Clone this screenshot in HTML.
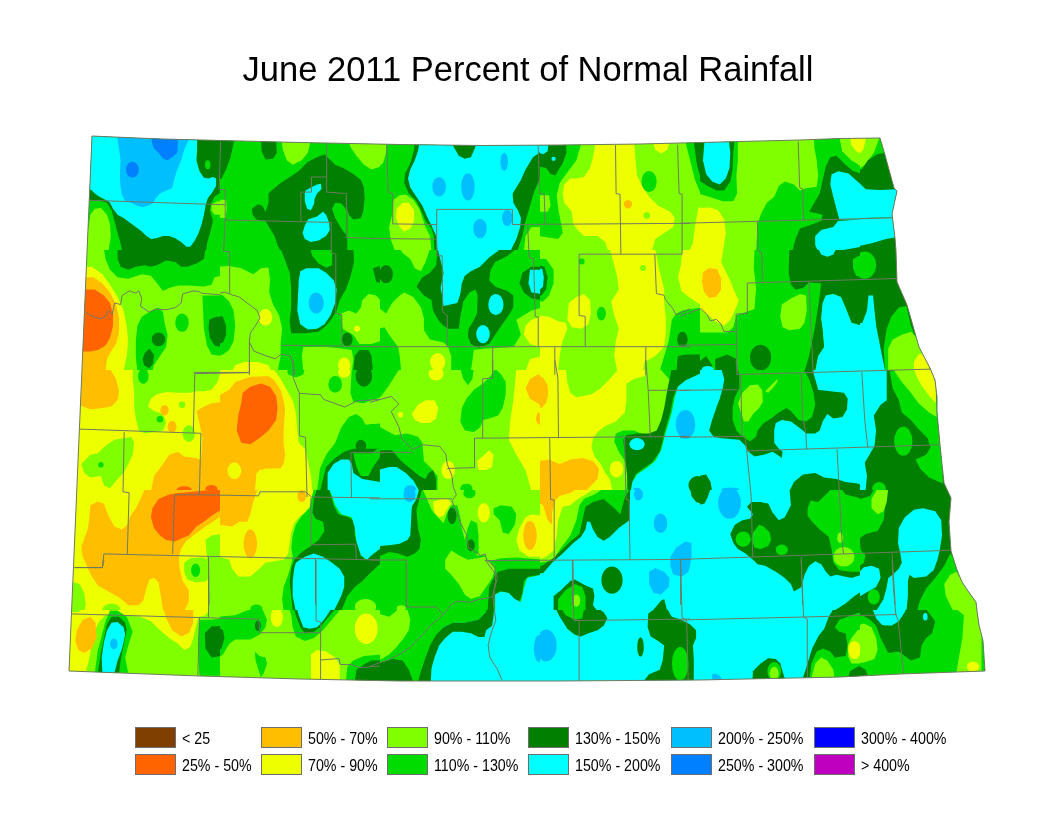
<!DOCTYPE html>
<html><head><meta charset="utf-8"><title>June 2011 Percent of Normal Rainfall</title>
<style>
html,body{margin:0;padding:0;background:#fff;}
body{width:1056px;height:816px;position:relative;overflow:hidden;font-family:"Liberation Sans",Arial,sans-serif;}
h1{position:absolute;left:0;top:52px;width:1056px;margin:0;text-align:center;font-weight:normal;font-size:34.5px;line-height:1;color:#000;letter-spacing:0px;padding-left:0px;box-sizing:border-box;}
.sw{position:absolute;width:39px;height:19px;border:1px solid #6e6e6e;box-sizing:content-box;}
.lt{position:absolute;font-size:16px;line-height:16px;transform:scaleX(0.89);transform-origin:0 0;color:#000;white-space:nowrap;}
</style></head><body>
<svg width="1056" height="816" viewBox="0 0 1056 816" style="position:absolute;left:0;top:0"><defs><clipPath id="nd"><polygon points="92,136 114,137 137,138 162,139 221,140.5 300,142.5 400,144.5 480,145.5 560,145 640,144 720,142 800,140 840,138.5 880,138 885,155 894,188 897,191 892,214 895,238 896,251 897,282 907,305 913,326 919,347 930,368 935,380 937,397 937,412 940,445 944,483 951,498 949,522 951,551 957,570 962,582 968,591 976,602 977,611 979,625 983,641 984,656 985,671 900,674 840,677 700,680 560,681 480,681 400,681 300,679 200,676 69,671"/></clipPath><clipPath id="t0"><rect x="60" y="130" width="160" height="120"/></clipPath><clipPath id="t1"><rect x="60" y="250" width="160" height="120"/></clipPath><clipPath id="t2"><rect x="60" y="370" width="160" height="120"/></clipPath><clipPath id="t3"><rect x="60" y="490" width="160" height="120"/></clipPath><clipPath id="t4"><rect x="60" y="610" width="160" height="120"/></clipPath><clipPath id="t5"><rect x="220" y="130" width="160" height="120"/></clipPath><clipPath id="t6"><rect x="220" y="250" width="160" height="120"/></clipPath><clipPath id="t7"><rect x="220" y="370" width="160" height="120"/></clipPath><clipPath id="t8"><rect x="220" y="490" width="160" height="120"/></clipPath><clipPath id="t9"><rect x="220" y="610" width="160" height="120"/></clipPath><clipPath id="t10"><rect x="380" y="130" width="160" height="120"/></clipPath><clipPath id="t11"><rect x="380" y="250" width="160" height="120"/></clipPath><clipPath id="t12"><rect x="380" y="370" width="160" height="120"/></clipPath><clipPath id="t13"><rect x="380" y="490" width="160" height="120"/></clipPath><clipPath id="t14"><rect x="380" y="610" width="160" height="120"/></clipPath><clipPath id="t15"><rect x="540" y="130" width="160" height="120"/></clipPath><clipPath id="t16"><rect x="540" y="250" width="160" height="120"/></clipPath><clipPath id="t17"><rect x="540" y="370" width="160" height="120"/></clipPath><clipPath id="t18"><rect x="540" y="490" width="160" height="120"/></clipPath><clipPath id="t19"><rect x="540" y="610" width="160" height="120"/></clipPath><clipPath id="t20"><rect x="700" y="130" width="160" height="120"/></clipPath><clipPath id="t21"><rect x="700" y="250" width="160" height="120"/></clipPath><clipPath id="t22"><rect x="700" y="370" width="160" height="120"/></clipPath><clipPath id="t23"><rect x="700" y="490" width="160" height="120"/></clipPath><clipPath id="t24"><rect x="700" y="610" width="160" height="120"/></clipPath><clipPath id="t25"><rect x="860" y="130" width="160" height="120"/></clipPath><clipPath id="t26"><rect x="860" y="250" width="160" height="120"/></clipPath><clipPath id="t27"><rect x="860" y="370" width="160" height="120"/></clipPath><clipPath id="t28"><rect x="860" y="490" width="160" height="120"/></clipPath><clipPath id="t29"><rect x="860" y="610" width="160" height="120"/></clipPath></defs><g clip-path="url(#nd)"><polygon fill="#80ff00" points="92,136 114,137 137,138 162,139 221,140.5 300,142.5 400,144.5 480,145.5 560,145 640,144 720,142 800,140 840,138.5 880,138 885,155 894,188 897,191 892,214 895,238 896,251 897,282 907,305 913,326 919,347 930,368 935,380 937,397 937,412 940,445 944,483 951,498 949,522 951,551 957,570 962,582 968,591 976,602 977,611 979,625 983,641 984,656 985,671 900,674 840,677 700,680 560,681 480,681 400,681 300,679 200,676 69,671"/><g clip-path="url(#t0)"><rect x="60" y="130" width="160" height="120" fill="#00dc00"/><polygon fill="#80ff00" points="94.8,208.8 100.9,208 107,214.8 110,223.9 110.8,236.1 108.5,251.2 82.7,251.2 88.8,227 90.3,214.8"/><polygon fill="#80ff00" points="211.5,204.2 217.6,201.2 221.5,201.2 221.5,214.8 214.5,214.8 211.5,210.3"/><polygon fill="#007f00" points="82.7,134.5 221.5,134.5 221.5,192.1 214.5,196.7 211.5,202.7 210,210.3 213,220.9 210,233 207,243.6 206.2,251.2 122.1,251.2 120.6,243.6 117.6,233 114.5,220.9 111.5,210.3 107,202.7 99.4,200.5 82.7,200.5"/><ellipse fill="#00dc00" cx="207.7" cy="164.8" rx="2.7" ry="4.5"/><polygon fill="#00ffff" points="82.7,134.5 197.1,134.5 197.1,149.7 196.4,160.3 199.4,170.9 203.9,177.7 208.5,178.5 213,177 216.1,178.5 216.1,186.1 211.5,193.6 207.7,198.2 205.5,205.8 203.9,214.8 201.7,223.9 198.6,233 194.8,240.6 190.3,246.7 186.5,246.7 181.2,242.1 175.2,238.3 169.1,236.1 163,236.1 157,237.9 150.9,239.1 146.4,236.1 141.8,231.5 135.8,227 129.7,222.4 123.6,217.9 117.6,214.8 113,208.8 110,202.7 105.5,199.7 99.4,196.7 94.8,193.6 91.1,189.8 82.7,189.8"/><polygon fill="#00bfff" points="116.8,134.5 188.8,134.5 188.8,139.8 184.2,149.7 181.2,160.3 176.7,170.9 173.6,181.5 172.1,188.3 166.1,190.6 160,193.6 155.5,198.2 153.9,202.7 147.9,205.8 141.8,207.3 135.8,205 131.2,202.7 125.2,201.2 122.1,195.2 120.6,187.6 119.8,175.5 120.6,160.3 119.1,149.7"/><polygon fill="#0080ff" points="151.7,134.5 178.2,134.5 177.4,152.7 172.1,157.3 167.6,160.3 163,158.8 158.5,152.7 153.9,148.2 151.7,142.1"/><ellipse fill="#0080ff" cx="132.4" cy="169.7" rx="6.4" ry="7.9"/></g>
<g clip-path="url(#t1)"><rect x="60" y="250" width="160" height="120" fill="#80ff00"/><polygon fill="#00dc00" points="103.9,248.5 221.5,248.5 221.5,275.8 214.5,277.3 211.5,284.8 203.9,286.4 188.8,285.6 178.2,285.6 169.1,287.9 163,290.9 157,283.3 150.9,275.8 141.8,274.2 128.2,278.8 117.6,277.3 110,269.7 105.5,259.1"/><polygon fill="#007f00" points="117.6,248.5 205.5,248.5 203.9,259.1 196.4,263.6 187.3,266.7 181.2,266.7 175.2,262.1 166.1,260.6 157,265.2 150.9,266.7 144.8,265.2 135.8,266.7 128.2,269.7 120.6,266.7 117.6,259.1"/><polygon fill="#eeff00" points="75.2,266.7 91.8,266.7 102.4,274.2 110,284.8 117.6,297 123.6,310.6 126.7,325.8 128.2,340.9 126.7,356.1 123.6,371.2 75.2,371.2"/><polygon fill="#ffbf00" points="75.2,277.3 93.3,277.3 102.4,283.3 110,292.4 116.1,304.5 119.1,318.2 119.1,331.8 116.1,343.9 110,353 107,359.1 105.5,371.2 75.2,371.2"/><polygon fill="#ff6400" points="75.2,289.4 94.8,289.4 103.9,295.5 110,303 113,313.6 113,325.8 110,337.9 105.5,345.5 97.9,350 90.3,351.5 75.2,351.5"/><polygon fill="#00dc00" points="137.3,325.8 141.8,316.7 149.4,312.1 158.5,307.6 163,312.1 164.5,322.7 167.6,334.8 166.1,347 160,356.1 153.9,365.2 152.4,371.2 137.3,371.2 135.8,356.1 135.8,340.9"/><ellipse fill="#007f00" cx="158.5" cy="339.4" rx="6.8" ry="6.8"/><polygon fill="#007f00" points="144.8,353 149.4,348.5 153.9,354.5 153.2,363.6 149.4,368.2 144.1,365.2 142.6,359.1"/><ellipse fill="#00dc00" cx="182" cy="322.7" rx="6.8" ry="9.1"/><polygon fill="#00dc00" points="202.4,295.5 221.5,295.5 221.5,356.1 211.5,354.5 207,345.5 203.9,328.8 203.2,313.6"/><polygon fill="#007f00" points="209.2,319.7 216.1,316.7 221.5,316.7 221.5,347 214.5,345.5 210,337.9 208.5,328.8"/></g>
<g clip-path="url(#t2)"><rect x="60" y="370" width="160" height="120" fill="#eeff00"/><polygon fill="#ffbf00" points="75.2,368.5 110,368.5 116.1,379.1 119.1,391.2 117.6,400.3 111.5,406.4 102.4,407.9 90.3,409.4 82.7,406.4 75.2,404.8"/><polygon fill="#80ff00" points="132.7,368.5 221.5,368.5 217.6,382.1 211.5,389.7 203.9,391.2 194.8,391.2 190.3,392.7 178.2,392.7 166.1,392 157,394.2 150.9,398.8 147.9,406.4 153.9,410.9 163,413.9 166.1,423 163,430.6 153.9,432.1 144.8,433.6 138.8,430.6 135.8,418.5 134.2,406.4 134.2,392.7 132.7,379.1"/><ellipse fill="#00dc00" cx="143.3" cy="376.1" rx="5.3" ry="7.6"/><ellipse fill="#00dc00" cx="160" cy="419.2" rx="3.3" ry="3.3"/><ellipse fill="#ffbf00" cx="164.5" cy="410.2" rx="4.2" ry="5.3"/><ellipse fill="#ffbf00" cx="172.1" cy="426.8" rx="4.5" ry="6.1"/><ellipse fill="#80ff00" cx="182" cy="404.8" rx="3.3" ry="3.3"/><ellipse fill="#80ff00" cx="188.8" cy="433.6" rx="6.1" ry="8.3"/><polygon fill="#ffbf00" points="196.4,410.9 203.9,406.4 211.5,403.3 221.5,401.8 221.5,491.2 199.4,491.2 200.9,460.9 202.4,438.2 199.4,423"/><polygon fill="#ffbf00" points="150.9,491.2 153.9,476.1 163,463.9 169.1,454.8 178.2,451.8 184.2,456.4 196.4,457.9 202.4,460.9 200.9,491.2"/><ellipse fill="#ff6400" cx="184.2" cy="490" rx="7.6" ry="3.8"/><ellipse fill="#ff6400" cx="211.5" cy="488.9" rx="6.1" ry="3.8"/><polygon fill="#80ff00" points="81.2,463.9 90.3,454.8 97.9,453.3 105.5,445.8 114.5,439.7 123.6,438.2 131.2,436.7 134.2,442.7 132.7,454.8 128.2,463.9 123.6,473 117.6,479.1 110,488.2 103.9,485.2 100.9,476.1 90.3,477.6 84.2,473"/><ellipse fill="#00dc00" cx="100.9" cy="464.7" rx="2.7" ry="2.7"/></g>
<g clip-path="url(#t3)"><rect x="60" y="490" width="160" height="120" fill="#eeff00"/><polygon fill="#ffbf00" points="90.3,505.2 97.9,501.4 103.9,503.6 108.5,515.8 114.5,526.4 122.1,529.4 127.4,524.8 129.7,517.3 135.8,508.2 141.8,496.1 144.8,488.5 221.5,488.5 221.5,515.8 213,521.8 205.5,526.4 199.4,530.9 193.3,535.5 185.8,541.5 181.2,549.1 178.9,556.7 179.7,568.8 182.7,580.9 188.8,590 188.8,602.1 184.2,611.2 163,611.2 160.8,596.1 158.5,582.4 153.9,577.9 149.4,579.4 146.4,588.5 143.3,600.6 138.8,605.2 128.2,605.2 119.1,597.6 108.5,591.5 97.9,585.5 91.8,576.4 87.3,567.3 82.7,556.7 81.2,547.6 84.2,538.5 88,527.9 89.5,515.8"/><polygon fill="#ff6400" points="152.4,508.2 158.5,499.1 169.1,494.5 178.2,493 196.4,491.5 221.5,488.5 221.5,509.7 211.5,515.8 203.9,521.8 196.4,526.4 188.8,535.5 181.2,538.5 175.2,541.5 166.1,540 160,535.5 153.9,527.9 150.9,517.3"/><polygon fill="#80ff00" points="205.5,540 211.5,535.5 221.5,533.9 221.5,611.2 208.5,611.2 208.5,580.9 207,558.2"/><polygon fill="#80ff00" points="184.2,562.7 190.3,558.2 202.4,557.4 208.5,559.7 209.2,574.8 207,580.9 196.4,582.4 187.3,579.4 184.2,571.8"/><ellipse fill="#00dc00" cx="195.6" cy="570.3" rx="4.5" ry="6.8"/><polygon fill="#80ff00" points="69.1,580.9 79.7,583.9 84.2,593 85.8,605.2 84.2,611.2 69.1,611.2"/><ellipse fill="#80ff00" cx="111.5" cy="609.7" rx="9.1" ry="6.1"/></g>
<g clip-path="url(#t4)"><rect x="60" y="610" width="160" height="120" fill="#80ff00"/><polygon fill="#eeff00" points="58.5,598.5 221.5,598.5 221.5,607.6 210,609.1 205.5,615.2 199.4,616.7 196.4,624.2 193.3,637.9 190.3,647 184.2,650 178.2,643.9 169.1,637.9 160,630.3 150.9,621.2 140.3,616.7 129.7,615.2 120.6,615.2 105.5,615.2 99.4,621.2 94.8,630.3 91.8,645.5 88.8,660.6 85.8,671.2 58.5,671.2"/><polygon fill="#80ff00" points="69.1,598.5 84.2,598.5 84.2,606.1 78.2,612.1 70.6,612.1"/><ellipse fill="#ffbf00" cx="134.2" cy="601.5" rx="10.6" ry="4.5"/><polygon fill="#ffbf00" points="163,598.5 190.3,598.5 193.3,609.1 193.3,622.7 188.8,633.3 181.2,636.4 172.1,630.3 166.1,618.2 163,607.6"/><polygon fill="#ffbf00" points="76.7,630.3 82.7,619.7 90.3,616.7 95.6,622.7 96.4,637.9 91.8,648.5 84.2,653 78.2,650 75.2,640.9"/><polygon fill="#00dc00" points="94.8,672.7 97.9,650 102.4,633.3 105.5,621.2 110,610.6 117.6,610.6 126.7,616.7 129.7,624.2 132.7,631.8 128.2,645.5 125.2,657.6 128.2,672.7"/><polygon fill="#007f00" points="97.9,672.7 100.9,653 103.9,637.9 107,624.2 111.5,616.7 119.1,616.7 125.2,622.7 126.7,630.3 123.6,645.5 120.6,660.6 119.1,672.7"/><polygon fill="#00ffff" points="102.4,672.7 101.7,657.6 103.9,642.4 107,630.3 111.5,622.7 117.6,622 123.6,627.3 125.2,634.8 122.1,648.5 117.6,660.6 114.5,672.7"/><ellipse fill="#00bfff" cx="113.8" cy="643.9" rx="3.8" ry="5.3"/><polygon fill="#00dc00" points="199.4,619.7 211.5,619.7 221.5,618.2 221.5,675.8 199.4,675.8 197.9,645.5"/><polygon fill="#007f00" points="204.7,633.3 211.5,626.5 221.5,625.8 221.5,656.1 211.5,657.6 205.5,648.5"/></g>
<g clip-path="url(#t5)"><rect x="220" y="130" width="160" height="120" fill="#00dc00"/><polygon fill="#007f00" points="218.5,139.1 234.4,139.1 230.6,157.3 226.1,169.4 221.5,178.5 218.5,180"/><polygon fill="#007f00" points="260.9,139.1 276.1,139.1 276.8,152.7 273,158.8 265.5,159.5 261.7,151.2"/><polygon fill="#80ff00" points="281.4,139.1 310.9,139.1 307.9,152.7 301.8,160.3 292.7,164.8 286.7,160.3 282.9,149.7"/><polygon fill="#80ff00" points="348.8,139.1 381.5,139.1 381.5,166.4 371.5,169.4 363.9,164.8 356.4,155.8 350.3,146.7"/><polygon fill="#80ff00" points="218.5,199.7 226.1,199.7 226.8,208.8 225.3,217.9 218.5,217.9"/><polygon fill="#007f00" points="251.8,208.8 257.9,204.2 262.4,205.8 265.5,211.8 268.5,202.7 268.5,193.6 271.5,190.6 280.6,183 289.7,177 298.8,170.9 307.9,161.8 317,157.3 324.5,154.2 329.1,158.8 335.2,164.8 344.2,168.6 353.3,173.9 360.9,180 363.9,187.6 364.7,198.2 363.2,211.8 360.9,217.9 353.3,219.4 348.8,214.8 347.3,208.8 347.3,251.2 280.6,251.2 277.6,245.2 274.5,236.1 270,228.5 265.5,220.9 256.4,219.4 252.6,214.8"/><polygon fill="#00dc00" points="335.2,202.7 341.2,203.5 345.8,208.8 346.5,220.9 345.8,234.5 341.2,228.5 335.2,217.9 332.1,208.8"/><polygon fill="#00ffff" points="305.6,190.6 310.9,187.6 317,184.5 320.8,183.8 321.5,189.1 317,193.6 314.7,198.2 313.9,204.2 310.9,210.3 307.1,208.8 304.8,201.2 304.8,193.6"/><polygon fill="#00ffff" points="307.9,219.4 317,216.4 323,211.8 326.1,214.8 329.1,222.4 329.8,230 326.1,236.1 318.5,240.6 310.9,242.1 304.8,239.1 302.6,233 304.8,225.5"/></g>
<g clip-path="url(#t6)"><rect x="220" y="250" width="160" height="120" fill="#00dc00"/><polygon fill="#80ff00" points="218.5,266.7 229.1,265.9 241.2,268.2 247.3,271.2 253.3,274.2 260.9,268.2 268.5,267.4 270,280.3 269.2,292.4 273,304.5 279.1,315.2 282.1,328.8 280.6,343.9 280.6,356.1 277.6,371.2 218.5,371.2"/><polygon fill="#00dc00" points="218.5,293.9 223,295.5 229.1,301.5 233.6,310.6 235.2,325.8 233.6,340.9 229.1,350 223,354.5 218.5,356.1"/><polygon fill="#007f00" points="218.5,315.2 223,316.7 226.1,325.8 226.1,334.8 223,342.4 218.5,343.9"/><ellipse fill="#eeff00" cx="265.5" cy="317.4" rx="6.8" ry="8.3"/><polygon fill="#eeff00" points="232.1,371.2 235.2,365.2 244.2,362.1 257.9,362.1 268.5,365.2 271.5,371.2"/><polygon fill="#007f00" points="280.6,248.5 353.3,248.5 354.1,262.1 350.3,277.3 345.8,289.4 339.7,300 336.7,310.6 332.1,318.2 326.1,325.8 318.5,331.8 304.8,333.3 291.2,333.3 289.7,321.2 291.2,307.6 291.2,287.9 289.7,272.7 285.2,260.6"/><polygon fill="#00dc00" points="310.2,248.5 332.1,248.5 332.1,265.2 326.1,267.4 318.5,263.6 312.4,256.1"/><polygon fill="#00ffff" points="300.3,271.2 306.4,268.2 318.5,268.2 326.1,272.7 333.6,280.3 336.7,289.4 335.2,303 330.6,315.2 324.5,324.2 317,328.8 307.9,329.5 300.3,324.2 297.3,310.6 298,295.5 298.8,280.3"/><ellipse fill="#00bfff" cx="316.2" cy="303" rx="7.6" ry="10.6"/><polygon fill="#80ff00" points="341.2,313.6 348.8,310.6 356.4,313.6 360.9,307.6 362.4,300 368.5,293.9 376.1,295.5 381.5,301.5 381.5,340.9 371.5,343.9 359.4,343.9 353.3,334.8 347.3,331.8 342.7,328.8"/><ellipse fill="#007f00" cx="347.3" cy="339.4" rx="5.3" ry="6.8"/><ellipse fill="#eeff00" cx="357.1" cy="328.8" rx="3" ry="3"/><polygon fill="#80ff00" points="303.3,347 326.1,347 341.2,348.5 351.8,350 353.3,359.1 351.8,371.2 303.3,371.2 301.8,356.1"/><ellipse fill="#eeff00" cx="344.2" cy="365.2" rx="6.1" ry="7.6"/><polygon fill="#007f00" points="354.8,356.1 359.4,350 368.5,350 371.5,356.1 373,371.2 353.3,371.2"/><polygon fill="#007f00" points="373,268.2 381.5,265.2 381.5,283.3 376.1,281.8"/></g>
<g clip-path="url(#t7)"><rect x="220" y="370" width="160" height="120" fill="#80ff00"/><polygon fill="#eeff00" points="218.5,368.5 273,368.5 280.6,379.1 286.7,389.7 292.7,400.3 295.8,412.4 297.3,430.6 298.8,442.7 304.8,448.8 307.9,460.9 310.9,476.1 312.4,491.2 218.5,491.2"/><polygon fill="#ffbf00" points="218.5,395.8 229.1,389.7 235.2,382.1 250.3,376.8 268.5,376.1 274.5,380.6 280.6,389.7 283.6,400.3 285.2,409.4 283.6,430.6 283.6,442.7 285.2,454.8 283.6,463.9 280.6,468.5 259.4,470 256.4,476.1 254.8,491.2 218.5,491.2"/><ellipse fill="#eeff00" cx="234.4" cy="470.8" rx="6.8" ry="8.3"/><polygon fill="#eeff00" points="256.4,473 265.5,468.5 283.6,468.5 286.7,476.1 285.2,491.2 256.4,491.2"/><polygon fill="#ff6400" points="242.7,392.7 250.3,386.7 260.9,383.6 270,386.7 276.1,395.8 277.6,407.9 276.1,420 268.5,430.6 259.4,438.2 250.3,444.2 241.2,442.7 236.7,430.6 238.2,415.5 241.2,403.3"/><polygon fill="#00dc00" points="286.7,368.5 304.8,368.5 303.3,374.5 295.8,377.6 288.2,374.5"/><ellipse fill="#00dc00" cx="335.2" cy="384.4" rx="6.8" ry="8.3"/><polygon fill="#00dc00" points="351.8,368.5 381.5,368.5 381.5,397.3 371.5,400.3 363.9,403.3 353.3,401.8 350.3,392.7"/><ellipse fill="#007f00" cx="363.9" cy="376.1" rx="8.3" ry="10.6"/><ellipse fill="#eeff00" cx="344.2" cy="372.3" rx="6.1" ry="5.3"/><polygon fill="#00dc00" points="317,491.2 320,468.5 326.1,454.8 335.2,442.7 341.2,427.6 348.8,417 356.4,413.9 362.4,418.5 365.5,424.5 381.5,423 381.5,491.2"/><polygon fill="#80ff00" points="353.3,407.9 363.9,403.3 371.5,401.8 381.5,400.3 381.5,423 365.5,424.5 362.4,418.5 356.4,412.4"/><polygon fill="#007f00" points="320,491.2 326.1,467 335.2,457.9 344.2,451.8 353.3,448.8 381.5,448.8 381.5,491.2"/><ellipse fill="#007f00" cx="360.9" cy="445.8" rx="5.3" ry="6.1"/><polygon fill="#00ffff" points="327.6,491.2 327.6,473 333.6,463.9 341.2,459.4 348.8,459.4 351.8,463.9 353.3,473 362.4,479.1 371.5,480.6 381.5,482.1 381.5,491.2"/><polygon fill="#00dc00" points="353.3,453.3 371.5,453.3 377.6,448.8 381.5,448.8 381.5,454.8 373,467 368.5,476.1 360.9,476.1 356.4,467"/></g>
<g clip-path="url(#t8)"><rect x="220" y="490" width="160" height="120" fill="#80ff00"/><polygon fill="#eeff00" points="218.5,488.5 313.9,488.5 310.9,505.2 304.8,512.7 298.8,517.3 294.2,523.3 291.2,532.4 289.7,543 288.2,553.6 283.6,559.7 265.5,562.7 259.4,568.8 250.3,576.4 238.2,576.4 232.1,568.8 229.1,559.7 218.5,556.7"/><polygon fill="#ffbf00" points="218.5,488.5 257.9,488.5 253.3,502.1 250.3,514.2 247.3,521.8 239.7,521.8 232.1,526.4 218.5,524.8"/><ellipse fill="#ffbf00" cx="301.8" cy="496.1" rx="4.5" ry="6.1"/><ellipse fill="#ffbf00" cx="250.3" cy="543.8" rx="6.8" ry="14.4"/><polygon fill="#00dc00" points="313.9,488.5 381.5,488.5 381.5,611.2 283.6,611.2 282.1,599.1 283.6,587 288.2,574.8 291.2,564.2 292.7,556.7 291.2,547.6 292.7,535.5 295.8,524.8 301.8,515.8 309.4,508.2 311.7,497.6"/><polygon fill="#007f00" points="317,488.5 329.1,488.5 333.6,505.2 338.2,514.2 348.8,517.3 354.8,521.8 354.8,535.5 357.9,544.5 360.9,555.2 365.5,559.7 371.5,555.2 381.5,547.6 381.5,562.7 371.5,571.8 362.4,580.9 354.8,587 347.3,596.1 341.2,611.2 292.7,611.2 291.2,596.1 289.7,580.9 291.2,568.8 294.2,559.7 301.8,552.1 310.9,546.1 318.5,540 324.5,530.9 323,521.8 315.5,518.8 312.4,512.7 313.9,499.1"/><polygon fill="#00ffff" points="329.1,488.5 381.5,488.5 381.5,547.6 371.5,555.2 367,559.7 360.9,555.2 356.4,541.5 354.8,527.9 351.8,517.3 341.2,514.2 335.2,505.2 332.1,496.1"/><polygon fill="#00ffff" points="295.8,562.7 304.8,556.7 313.9,553.6 323,556.7 332.1,562.7 339.7,568.8 344.2,576.4 344.2,587 341.2,596.1 336.7,605.2 333.6,611.2 295.8,611.2 292.7,596.1 292.7,580.9 294.2,568.8"/><polygon fill="#00dc00" points="348.8,611.2 353.3,599.1 362.4,588.5 371.5,580.9 381.5,571.8 381.5,611.2"/><ellipse fill="#80ff00" cx="365.5" cy="606.7" rx="10.6" ry="7.6"/><ellipse fill="#00dc00" cx="256.4" cy="608.9" rx="6.1" ry="4.5"/></g>
<g clip-path="url(#t9)"><rect x="220" y="610" width="160" height="120" fill="#80ff00"/><polygon fill="#00dc00" points="218.5,616.7 235.2,615.2 250.3,609.1 256.4,606.1 262.4,609.1 267,619.7 265.5,627.3 259.4,634.8 250.3,639.4 241.2,639.4 235.2,639.4 229.1,643.9 223,654.5 218.5,657.6"/><polygon fill="#007f00" points="218.5,627.3 223,630.3 224.5,637.9 221.5,648.5 218.5,650"/><ellipse fill="#007f00" cx="257.9" cy="625.8" rx="3" ry="5.3"/><ellipse fill="#eeff00" cx="276.8" cy="617.4" rx="6.1" ry="9.8"/><polygon fill="#00dc00" points="286.7,598.5 348.8,598.5 338.2,612.1 329.1,622.7 323,630.3 313.9,637.9 304.8,640.9 295.8,636.4 292.7,627.3 291.2,615.2"/><polygon fill="#007f00" points="291.2,598.5 344.2,598.5 335.2,609.1 326.1,619.7 320,627.3 313.9,631.8 304.8,633.3 300.3,627.3 295.8,615.2"/><polygon fill="#00ffff" points="294.2,598.5 336.7,598.5 332.1,607.6 326.1,616.7 321.5,622.7 317,627.3 309.4,628.8 303.3,627.3 298.8,615.2"/><polygon fill="#00dc00" points="363.9,598.5 381.5,598.5 381.5,609.1 371.5,606.1"/><ellipse fill="#eeff00" cx="366.2" cy="628.8" rx="11.4" ry="15.2"/><polygon fill="#eeff00" points="310.9,654.5 317,650 326.1,651.5 335.2,657.6 339.7,665.2 339.7,681.8 310.9,681.8"/><polygon fill="#00dc00" points="345.8,681.8 347.3,666.7 353.3,660.6 363.9,656.1 381.5,654.5 381.5,681.8"/><polygon fill="#007f00" points="354.8,681.8 356.4,669.7 365.5,663.6 371.5,660.6 381.5,660.6 381.5,681.8"/><polygon fill="#00dc00" points="254.8,651.5 259.4,656.1 265.5,657.6 267,663.6 263.9,672.7 260.9,677.3 257.9,668.2 255.6,660.6"/></g>
<g clip-path="url(#t10)"><rect x="380" y="130" width="160" height="120" fill="#00dc00"/><polygon fill="#80ff00" points="378.5,139.1 386.8,139.1 386.1,152.7 383,163.3 378.5,166.4"/><polygon fill="#80ff00" points="393.6,199.7 399.7,195.2 405.8,194.4 413.3,199.7 419.4,208.8 422.4,217.9 425.5,227 430,236.1 431.5,251.2 395.2,251.2 390.6,239.1 389.1,227 392.1,214.8"/><polygon fill="#eeff00" points="396.7,208.8 402.7,202.7 408.8,202.7 414.1,210.3 414.1,220.9 410.3,228.5 404.2,231.5 399.7,227 395.9,217.9"/><polygon fill="#80ff00" points="525.5,236.1 531.5,227 541.5,227 541.5,251.2 523.9,251.2"/><polygon fill="#007f00" points="414.8,139.1 541.5,139.1 541.5,175.5 534.5,190.6 530,205.8 524.7,223.9 522.4,236.1 517.1,251.2 434.5,251.2 433.8,236.1 431.5,228.5 425.5,220.9 420.9,210.3 416.4,201.2 408.8,193.6 404.2,183 405,173.9 410.3,163.3 414.1,149.7"/><polygon fill="#00ffff" points="420.2,139.1 452.7,139.1 452.7,145.2 458.8,155.8 464.8,158.8 470.9,157.3 475.5,146.7 475.5,139.1 541.5,139.1 541.5,151.2 533,157.3 525.5,169.4 520.9,180 512.6,193.6 513.3,202.7 517.9,210.3 520.9,217.9 520.2,227 516.4,239.1 510.3,251.2 437.6,251.2 436.1,236.1 431.5,225.5 427,216.4 422.4,205.8 416.4,196.7 410.3,187.6 408,178.5 410.3,169.4 414.8,160.3 417.9,151.2"/><ellipse fill="#00bfff" cx="439.1" cy="186.8" rx="6.8" ry="9.8"/><ellipse fill="#00bfff" cx="467.9" cy="186.8" rx="6.8" ry="13.6"/><ellipse fill="#00bfff" cx="504.2" cy="161.8" rx="3.8" ry="9.1"/><ellipse fill="#00bfff" cx="480" cy="228.5" rx="6.8" ry="9.8"/><ellipse fill="#00bfff" cx="507.3" cy="217.9" rx="5.3" ry="8.3"/></g>
<g clip-path="url(#t11)"><rect x="380" y="250" width="160" height="120" fill="#00dc00"/><polygon fill="#80ff00" points="399.7,248.5 430,248.5 425.5,262.1 420.9,271.2 414.8,268.2 410.3,259.1 402.7,253"/><ellipse fill="#007f00" cx="386.1" cy="274.2" rx="6.8" ry="9.1"/><polygon fill="#80ff00" points="378.5,307.6 386.1,313.6 392.1,303 399.7,295.5 404.2,292.4 413.3,297 420.9,307.6 423.9,318.2 423.9,330.3 430,339.4 443.6,342.4 448.2,347 451.2,356.1 451.2,371.2 401.2,371.2 399.7,356.1 398.2,347 389.1,334.8 384.5,327.3 378.5,328.8"/><ellipse fill="#eeff00" cx="437.6" cy="362.1" rx="7.6" ry="9.1"/><polygon fill="#007f00" points="416.4,286.4 422.4,277.3 430,272.7 436.1,265.2 437.6,248.5 516.4,248.5 507.3,256.1 495.2,262.1 490.6,269.7 489.1,280.3 495.2,286.4 507.3,290.9 513.3,295.5 513.3,307.6 508.8,315.2 501.2,325.8 495.2,334.8 489.1,343.9 478.5,347.7 470.9,343.9 467.9,336.4 464.8,328.8 455.8,328.8 448.2,328.8 443.6,325.8 439.1,321.2 433,310.6 431.5,300 423.9,295.5"/><polygon fill="#00dc00" points="458.8,328.8 460.3,316.7 463.3,301.5 469.4,292.4 475.5,289.4 477.7,295.5 477,313.6 473.2,321.2 468.6,328.8 467.9,336.4 464.8,340.9 458.8,337.9"/><polygon fill="#00ffff" points="437.6,248.5 501.2,248.5 489.1,257.6 480,266.7 470.9,271.2 464.8,275.8 461.8,283.3 460.3,293.9 457.3,303 443.6,306.1 442.1,295.5 440.6,287.9 443.6,272.7"/><ellipse fill="#00ffff" cx="495.9" cy="304.5" rx="7.6" ry="10.6"/><ellipse fill="#00ffff" cx="483" cy="334.1" rx="6.8" ry="9.1"/><polygon fill="#007f00" points="522.4,272.7 531.5,266.7 541.5,266.7 541.5,300 531.5,298.5 523.9,292.4 519.4,283.3"/><polygon fill="#00ffff" points="530,269.7 541.5,269.7 541.5,293.9 531.5,292.4 528.5,283.3"/><polygon fill="#80ff00" points="516.4,319.7 531.5,310.6 541.5,307.6 541.5,371.2 470.9,371.2 473.9,350 486.1,348.5 513.3,347 520.9,334.8"/><polygon fill="#eeff00" points="525.5,325.8 531.5,319.7 541.5,316.7 541.5,347 530,343.9 523.9,334.8"/><polygon fill="#eeff00" points="525.5,371.2 530,359.1 541.5,356.1 541.5,371.2"/></g>
<g clip-path="url(#t12)"><rect x="380" y="370" width="160" height="120" fill="#80ff00"/><polygon fill="#00dc00" points="378.5,368.5 399.7,368.5 389.1,385.2 381.5,395.8 378.5,397.3"/><ellipse fill="#eeff00" cx="436.1" cy="373.8" rx="7.6" ry="6.8"/><polygon fill="#00dc00" points="460.3,368.5 473.9,368.5 472.4,379.1 467.9,385.2 463.3,379.1"/><polygon fill="#00dc00" points="461.8,407.9 466.4,398.8 473.9,389.7 483,383.6 490.6,376.1 495.2,368.5 501.2,374.5 505.8,382.1 505.8,394.2 502.7,407.9 498.2,415.5 489.1,418.5 483,420 480,427.6 473.9,432.1 464.8,430.6 460.3,421.5"/><polygon fill="#eeff00" points="411.8,413.9 417.9,404.8 425.5,400.3 434.5,400.3 438.3,407.9 436.1,418.5 430,423 420.9,423 414.8,420"/><ellipse fill="#eeff00" cx="400.5" cy="414.7" rx="2.7" ry="2.7"/><polygon fill="#eeff00" points="516.4,368.5 541.5,368.5 541.5,491.2 531.5,491.2 525.5,470 516.4,454.8 508.8,439.7 510.3,420 513.3,400.3 514.8,385.2"/><polygon fill="#ffbf00" points="525.5,388.2 530,379.1 537.6,374.5 541.5,374.5 541.5,406.4 537.6,403.3 530,398.8"/><ellipse fill="#ffbf00" cx="539.1" cy="418.5" rx="3" ry="6.1"/><polygon fill="#eeff00" points="477,460.9 484.5,454.8 489.1,450.3 493.6,454.8 492.1,467 486.1,470 478.5,470"/><ellipse fill="#eeff00" cx="448.2" cy="470" rx="6.8" ry="9.1"/><polygon fill="#00dc00" points="378.5,426.1 386.1,430.6 395.2,435.2 407.3,433.6 417.9,436.7 422.4,442.7 423.9,460.9 430,467 437.6,476.1 437.6,491.2 378.5,491.2"/><polygon fill="#007f00" points="378.5,450.3 392.1,450.3 401.2,460.9 410.3,468.5 419.4,476.1 425.5,479.1 428.5,473 433,470 436.1,479.1 436.1,491.2 378.5,491.2"/><polygon fill="#00ffff" points="378.5,470 389.1,467 396.7,467 405.8,473 413.3,480.6 419.4,491.2 378.5,491.2"/><ellipse fill="#00bfff" cx="410.3" cy="489.7" rx="6.1" ry="4.5"/><ellipse fill="#00dc00" cx="466.4" cy="488.2" rx="6.1" ry="4.5"/></g>
<g clip-path="url(#t13)"><rect x="380" y="490" width="160" height="120" fill="#00dc00"/><polygon fill="#00ffff" points="378.5,488.5 419.4,488.5 416.4,499.1 413.3,505.2 411.8,520.3 411.8,535.5 408.8,543 399.7,546.1 389.1,547.6 378.5,549.1"/><ellipse fill="#00bfff" cx="409.5" cy="494.5" rx="6.1" ry="7.6"/><polygon fill="#007f00" points="378.5,546.1 389.1,545.3 399.7,543.8 407.3,540 410.3,535.5 411.1,520.3 411.8,506.7 416.4,499.1 419.4,488.5 422.4,488.5 419.4,499.1 416.4,509.7 417.9,527.9 420.9,540 419.4,549.1 414.8,553.6 407.3,556.7 398.2,553.6 389.1,552.1 378.5,556.7"/><polygon fill="#80ff00" points="422.4,488.5 541.5,488.5 541.5,559.7 516.4,557.4 501.2,558.2 489.1,561.2 484.5,555.2 477,555.2 470.9,550.6 464.8,540 461.8,527.9 460.3,517.3 457.3,505.2 451.2,505.2 446.7,514.2 443.6,523.3 437.6,517.3 431.5,509.7 427,499.1"/><polygon fill="#eeff00" points="433,502.1 440.6,499.1 448.2,499.1 451.2,503.6 446.7,509.7 443.6,515.8 439.1,517.3 434.5,512.7"/><ellipse fill="#007f00" cx="452" cy="515.8" rx="4.5" ry="8.3"/><ellipse fill="#eeff00" cx="483.8" cy="512.7" rx="6.1" ry="9.8"/><polygon fill="#00dc00" points="493.6,508.2 501.2,505.2 511.8,506.7 516.4,514.2 514.8,524.8 508.8,533.9 502.7,532.4 499.7,520.3 493.6,514.2"/><ellipse fill="#00dc00" cx="469.4" cy="493" rx="6.1" ry="5.3"/><polygon fill="#eeff00" points="516.4,540 519.4,527.9 525.5,517.3 531.5,514.2 541.5,515.8 541.5,556.7 528.5,556.7 519.4,550.6"/><ellipse fill="#ffbf00" cx="530" cy="535.5" rx="6.8" ry="14.4"/><polygon fill="#00dc00" points="470.9,520.3 477,523.3 478.5,535.5 478.5,553.6 473.9,555.2 467.9,550.6 464.8,540 467.9,527.9"/><ellipse fill="#007f00" cx="470.9" cy="545.3" rx="3.8" ry="6.1"/><polygon fill="#80ff00" points="445.2,559.7 451.2,550.6 458.8,555.2 467.9,559.7 477,558.2 484.5,556.7 489.1,561.2 495.2,568.8 492.1,577.9 486.1,587 480,596.1 470.9,599.1 464.8,594.5 458.8,583.9 451.2,574.8 445.2,568.8"/><polygon fill="#007f00" points="487.6,611.2 489.1,587 493.6,577.9 498.2,571.8 508.8,568.8 523.9,568.8 541.5,568.8 541.5,574.8 528.5,576.4 523.9,580.9 522.4,593 519.4,602.1 513.3,599.1 508.8,593 499.7,591.5 495.2,594.5 493.6,611.2"/><polygon fill="#00ffff" points="495.2,611.2 495.2,594.5 501.2,591.5 508.8,593 514.8,599.1 520.9,602.1 523.9,588.5 527,577.9 541.5,574.8 541.5,611.2"/><ellipse fill="#80ff00" cx="401.2" cy="608.2" rx="4.5" ry="3"/></g>
<g clip-path="url(#t14)"><rect x="380" y="610" width="160" height="120" fill="#00ffff"/><polygon fill="#00dc00" points="378.5,598.5 489.1,598.5 486.1,612.1 478.5,619.7 464.8,622.7 452.7,622.7 443.6,627.3 437.6,634.8 433,645.5 430,660.6 428.5,681.8 378.5,681.8"/><polygon fill="#80ff00" points="378.5,613.6 389.1,616.7 395.2,612.1 401.2,606.1 407.3,609.1 410.3,619.7 408.8,630.3 402.7,639.4 395.2,648.5 389.1,654.5 378.5,660.6"/><polygon fill="#007f00" points="486.1,598.5 494.4,598.5 493.6,615.2 492.1,625.8 486.1,630.3 484.5,637.1 478.5,637.1 470.9,633.3 461.8,631.8 452.7,631.8 445.2,637.9 439.1,645.5 434.5,657.6 431.5,668.2 430.8,681.8 417.9,681.8 420.9,671.2 425.5,657.6 430,645.5 436.1,634.8 443.6,627.3 452.7,622.7 464.8,622.7 478.5,619.7 486.1,612.1"/><polygon fill="#007f00" points="378.5,663.6 392.1,659.1 402.7,660.6 408.8,669.7 413.3,681.8 378.5,681.8"/><ellipse fill="#00bfff" cx="539.1" cy="648.5" rx="5.3" ry="13.6"/><ellipse fill="#007f00" cx="517.9" cy="600.8" rx="3.8" ry="2.3"/></g>
<g clip-path="url(#t15)"><rect x="540" y="130" width="160" height="120" fill="#80ff00"/><polygon fill="#00dc00" points="538.5,139.1 582.4,139.1 576.4,160.3 567.3,172.4 559.7,183 556.7,195.2 558.2,208.8 561.2,223.9 562.7,233 558.2,239.1 538.5,236.1"/><polygon fill="#80ff00" points="538.5,195.2 549.1,195.2 550.6,205.8 547.6,211.8 538.5,211.8"/><polygon fill="#007f00" points="538.5,139.1 565.8,139.1 566.5,152.7 562.7,163.3 555.2,175.5 550.6,173.9 546.1,167.9 538.5,166.4"/><polygon fill="#00ffff" points="538.5,145.2 548.3,145.2 547.6,151.2 543,154.2 538.5,152.7"/><ellipse fill="#00ffff" cx="553.6" cy="158.8" rx="2.1" ry="2.1"/><polygon fill="#eeff00" points="596.1,139.1 633.9,139.1 635.5,160.3 637,175.5 643,187.6 649.1,196.7 658.2,205.8 670.3,211.8 674.8,217.9 673.3,227 664.2,233 655.2,239.1 652.1,251.2 608.2,251.2 605.2,242.1 597.6,236.1 583.9,236.1 576.4,228.5 573.3,223.9 571.8,211.8 564.2,202.7 562.7,193.6 564.2,184.5 570.3,178.5 576.4,178.5 583.9,177 590,167.9 593,157.3"/><polygon fill="#eeff00" points="652.1,139.1 670.3,139.1 667.3,149.7 661.2,153.5 655.2,149.7"/><ellipse fill="#00dc00" cx="649.1" cy="181.5" rx="7.6" ry="10.6"/><ellipse fill="#ffbf00" cx="627.9" cy="204.2" rx="4.2" ry="4.2"/><ellipse fill="#80ff00" cx="646.8" cy="215.6" rx="3.3" ry="3.3"/><polygon fill="#00dc00" points="685.5,139.1 701.5,139.1 701.5,193.6 700,192 695,180 690,160 686.2,145.2"/><polygon fill="#007f00" points="693,139.1 701.5,139.1 701.5,181.5 697,165 693.9,143"/></g>
<g clip-path="url(#t16)"><rect x="540" y="250" width="160" height="120" fill="#80ff00"/><polygon fill="#00dc00" points="538.5,259.1 546.1,259.1 553.6,269.7 553.6,283.3 549.1,295.5 543,301.5 538.5,301.5"/><polygon fill="#007f00" points="538.5,265.2 544.5,266.7 547.6,277.3 546.1,289.4 541.5,295.5 538.5,295.5"/><polygon fill="#00ffff" points="538.5,268.2 542.3,268.9 543.8,277.3 543,286.4 538.5,290.9"/><polygon fill="#eeff00" points="538.5,315.2 549.1,316.7 558.2,321.2 565.8,322.7 567.3,328.8 562.7,340.9 561.2,347 559.7,356.1 558.2,371.2 538.5,371.2"/><polygon fill="#eeff00" points="568.8,303 576.4,297 583.9,293.9 590,300 590.8,313.6 588.5,324.2 580.9,328.8 571.8,327.3 567.3,319.7"/><polygon fill="#eeff00" points="609.7,248.5 655.2,248.5 658.2,265.2 661.2,277.3 664.2,289.4 664.2,303 665.8,318.2 665.8,333.3 664.2,347 655.2,356.1 644.5,362.1 643,371.2 617.3,371.2 614.2,356.1 615.8,340.9 618.8,328.8 614.2,315.2 611.2,301.5 618.8,289.4 617.3,277.3 614.2,265.2"/><ellipse fill="#80ff00" cx="643" cy="267.9" rx="3" ry="3"/><ellipse fill="#00dc00" cx="601.4" cy="313.6" rx="4.5" ry="6.8"/><ellipse fill="#00dc00" cx="581.7" cy="261.4" rx="3" ry="3"/><polygon fill="#eeff00" points="682.4,248.5 701.5,248.5 701.5,300 691.5,293.9 682.4,287.9 677.9,277.3 680.9,265.2"/><polygon fill="#00dc00" points="671.8,319.7 676.4,313.6 682.4,310.6 691.5,309.1 701.5,307.6 701.5,371.2 659.7,371.2 664.2,356.1 668.8,340.9"/><ellipse fill="#007f00" cx="682.4" cy="339.4" rx="5.3" ry="7.6"/><polygon fill="#007f00" points="677.9,356.1 685.5,354.5 701.5,354.5 701.5,371.2 676.4,371.2"/></g>
<g clip-path="url(#t17)"><rect x="540" y="370" width="160" height="120" fill="#eeff00"/><polygon fill="#ffbf00" points="538.5,376.1 543,377.6 547.6,385.2 548.3,394.2 546.1,403.3 541.5,407.9 538.5,407.9"/><polygon fill="#80ff00" points="565.8,368.5 618.8,368.5 611.2,377.6 600.6,388.2 591.5,394.2 576.4,397.3 570.3,392.7 567.3,382.1"/><polygon fill="#80ff00" points="646.1,368.5 701.5,368.5 701.5,491.2 612.7,491.2 609.7,479.1 605.2,473 600.6,463.9 594.5,456.4 591.5,447.3 593,438.2 597.6,432.1 605.2,426.1 615.8,421.5 624.8,412.4 626.4,400.3 626.4,383.6 633.9,379.1 644.5,376.1"/><ellipse fill="#eeff00" cx="616.5" cy="469.2" rx="6.8" ry="8.3"/><polygon fill="#ffbf00" points="538.5,460.9 549.1,459.4 559.7,463.9 570.3,459.4 582.4,457.9 593,460.9 599.1,468.5 597.6,479.1 590,486.7 585.5,491.2 538.5,491.2"/><polygon fill="#00dc00" points="659.7,368.5 701.5,368.5 701.5,491.2 626.4,491.2 627.9,468.5 624.8,460.9 618.8,451.8 614.2,441.2 615.8,433.6 623.3,430.6 633.9,430.6 649.1,436.7 655.2,435.2 661.2,427.6 665.8,420 667.3,407.9 668.8,391.2 671.8,382.1"/><polygon fill="#007f00" points="671.8,368.5 701.5,368.5 701.5,373 685.5,380.6 677.9,386.7 673.3,397.3 670.3,412.4 667.3,423 664.2,433.6 662.7,441.2 659.7,451.8 652.1,462.4 643,468.5 635.5,474.5 632.4,482.1 630.9,491.2 627.9,491.2 627.1,476.1 625.6,460.9 624.1,448.8 623.3,439.7 626.4,435.2 637,433.6 649.1,433.6 656.7,430.6 661.2,420 664.2,407.9 667.3,389.7"/><polygon fill="#00ffff" points="677.9,386.7 685.5,380.6 701.5,373 701.5,491.2 630.9,491.2 632.4,482.1 637,474.5 646.1,468.5 655.2,460.9 661.2,450.3 664.2,438.2 667.3,427.6 671.8,412.4 674.8,397.3"/><ellipse fill="#00ffff" cx="637" cy="444.2" rx="7.6" ry="6.1"/><ellipse fill="#00bfff" cx="685.5" cy="424.5" rx="9.8" ry="14.4"/><ellipse fill="#007f00" cx="697.6" cy="485.2" rx="9.1" ry="9.1"/><ellipse fill="#00bfff" cx="637" cy="490" rx="3.8" ry="2.3"/></g>
<g clip-path="url(#t18)"><rect x="540" y="490" width="160" height="120" fill="#00ffff"/><polygon fill="#007f00" points="538.5,488.5 630.2,488.5 629.4,520.3 618.8,527.9 609.7,537 603.6,540.8 597.6,537 593,529.4 590,521.8 587,521.8 585.5,529.4 580.9,537 573.3,543 562.7,553.6 552.1,562.7 543,573.3 538.5,573.3"/><polygon fill="#00dc00" points="538.5,488.5 630.2,488.5 624.8,497.6 620.3,514.2 612.7,506.7 603.6,499.1 593,502.1 585.5,506.7 582.4,520.3 579.4,533.9 570.3,541.5 561.2,550.6 552.1,558.2 544.5,564.2 538.5,567.3"/><polygon fill="#80ff00" points="538.5,488.5 603.6,488.5 594.5,494.5 583.9,499.1 579.4,505.2 576.4,520.3 570.3,535.5 561.2,547.6 555.2,556.7 549.1,561.2 538.5,562.7"/><polygon fill="#eeff00" points="538.5,488.5 594.5,488.5 585.5,494.5 577.9,499.1 570.3,505.2 562.7,506.7 558.2,520.3 556.7,535.5 553.6,550.6 546.1,556.7 538.5,559.7"/><polygon fill="#ffbf00" points="538.5,488.5 577.9,488.5 570.3,493 559.7,496.1 555.2,500.6 552.1,512.7 552.1,524.8 547.6,520.3 543,505.2 538.5,502.1"/><ellipse fill="#00bfff" cx="638.5" cy="494.5" rx="4.5" ry="6.1"/><ellipse fill="#00bfff" cx="660.5" cy="523.3" rx="6.8" ry="9.8"/><polygon fill="#00bfff" points="670.3,556.7 676.4,547.6 685.5,541.5 691.5,543 691.5,558.2 688.5,571.8 682.4,576.4 673.3,574.8 670.3,565.8"/><polygon fill="#00bfff" points="649.1,571.8 655.2,568 664.2,571.8 669.5,577.9 668.8,587 661.2,594.5 653.6,593 649.1,583.9"/><ellipse fill="#007f00" cx="612" cy="580.2" rx="10.6" ry="13.6"/><polygon fill="#007f00" points="690,488.5 701.5,488.5 701.5,503.6 696.1,502.1 691.5,496.1"/><polygon fill="#007f00" points="553.6,596.1 561.2,590 570.3,580.9 574.8,579.4 585.5,585.5 593,588.5 594.5,596.1 593,605.2 597.6,611.2 553.6,611.2"/><polygon fill="#00dc00" points="558.2,599.1 565.8,590 574.8,583.9 582.4,587 585.5,596.1 585.5,611.2 558.2,611.2"/><ellipse fill="#80ff00" cx="576.4" cy="600.6" rx="3.8" ry="6.1"/><polygon fill="#007f00" points="652.1,611.2 661.2,600.6 664.2,599.1 667.3,611.2"/></g>
<g clip-path="url(#t19)"><rect x="540" y="610" width="160" height="120" fill="#00ffff"/><polygon fill="#007f00" points="553.6,598.5 593,598.5 594.5,606.1 603.6,612.1 607.4,618.2 603.6,625.8 597.6,630.3 588.5,633.3 580.9,636.4 574.8,634.8 567.3,628.8 559.7,616.7 555.2,607.6"/><polygon fill="#00dc00" points="558.2,598.5 585.5,598.5 583.9,609.1 582.4,618.2 574.8,619.7 565.8,615.2 559.7,606.1"/><ellipse fill="#80ff00" cx="576.4" cy="603" rx="2.3" ry="3.8"/><ellipse fill="#00bfff" cx="546.1" cy="645.5" rx="10.6" ry="15.9"/><polygon fill="#007f00" points="648.3,613.6 656.7,607.6 662.7,598.5 667.3,609.1 671.8,616.7 680.9,619.7 690,624.2 696.1,630.3 696.1,637.9 693,645.5 693.8,660.6 693.8,681.8 643,681.8 649.1,674.2 659.7,669.7 662.7,660.6 664.2,645.5 658.2,640.9 650.6,636.4 647.6,627.3"/><ellipse fill="#00dc00" cx="680.2" cy="663.6" rx="8.3" ry="16.7"/><ellipse fill="#007f00" cx="640.5" cy="647" rx="3.3" ry="9.8"/></g>
<g clip-path="url(#t20)"><rect x="700" y="130" width="160" height="120" fill="#80ff00"/><polygon fill="#00dc00" points="698.5,139.1 737.9,139.1 737.9,160.3 736.4,175.5 737.1,193.6 733.3,201.2 722.7,201.2 709.1,196.7 698.5,193.6"/><polygon fill="#007f00" points="698.5,139.1 734.8,139.1 733.3,152.7 732.6,169.4 730.3,181.5 724.2,190.6 716.7,190.6 707.6,186.1 698.5,180"/><polygon fill="#00ffff" points="704.5,140.6 728.8,140.6 730.3,152.7 729.5,167.9 725.8,178.5 719.7,184.5 712.1,181.5 706.1,173.9 703,160.3"/><polygon fill="#eeff00" points="698.5,208.8 709.1,207.3 718.2,210.3 724.2,219.4 725.8,233 722.7,251.2 698.5,251.2"/><polygon fill="#00dc00" points="756.1,251.2 757.6,223.9 760.6,214.8 766.7,202.7 774.2,196.7 778.8,186.1 784.8,181.5 793.9,184.5 800,190.6 806.1,188.3 816.7,186.8 818.2,175.5 816.7,160.3 814.4,148.2 813.6,136.1 839.4,136.1 842.4,151.2 851.5,160.3 861.5,166.4 861.5,251.2"/><polygon fill="#80ff00" points="839.4,136.1 861.5,136.1 861.5,166.4 851.5,160.3 842.4,151.2"/><polygon fill="#eeff00" points="850,136.1 861.5,136.1 861.5,154.2 856.1,151.2 851.5,145.2"/><polygon fill="#007f00" points="809.1,211.8 815.2,201.2 819.7,193.6 822.7,180 825.8,166.4 830.3,157.3 836.4,155.8 845.5,164.8 853,170.9 861.5,173.9 861.5,251.2 792.4,251.2 795.5,239.1 800,228.5 809.1,225.5 821.2,220.9 822.7,214.8 816.7,213.3"/><polygon fill="#00ffff" points="831.5,174.5 838.3,171.2 848.6,173.6 855.5,179.7 861.5,184.8 861.5,219.4 839.4,219.4 836.4,208.8 833.3,196.7 830.3,184.5"/><polygon fill="#00ffff" points="815.2,236.1 821.2,230 833.3,227 837.9,220.9 861.5,219.4 861.5,246.7 836.4,251.2 818.2,251.2 815.2,245.2"/></g>
<g clip-path="url(#t21)"><rect x="700" y="250" width="160" height="120" fill="#00dc00"/><polygon fill="#80ff00" points="698.5,248.5 754.5,248.5 753.8,268.2 756.1,287.9 754.5,309.1 736.4,315.2 733.3,327.3 727.3,332.6 698.5,332.6"/><polygon fill="#eeff00" points="698.5,248.5 719.7,248.5 719.7,265.2 725.8,275.8 733.3,289.4 738.6,300 734.8,310.6 730.3,319.7 724.2,325.8 718.2,322.7 709.1,315.2 698.5,307.6"/><polygon fill="#ffbf00" points="703,275.8 709.1,272 716.7,272.7 721.2,280.3 721.2,289.4 716.7,295.5 710.6,297 706.1,292.4 703,283.3"/><polygon fill="#80ff00" points="781.8,304.5 790.9,298.5 800,293.9 806.1,295.5 806.8,310.6 804.5,322.7 800,328.8 789.4,330.3 782.6,327.3 780.3,316.7"/><polygon fill="#007f00" points="789.4,248.5 861.5,248.5 861.5,325.8 851.5,322.7 845.5,307.6 840.9,297 833.3,293.9 825.8,295.5 822.7,303 821.2,318.2 822.7,328.8 824.2,347 818.2,356.1 815.2,371.2 804.5,371.2 809.1,356.1 812.1,340.9 815.2,325.8 819.7,295.5 821.2,283.3 809.1,282.6 803,287.9 795.5,289.4 790.9,284.8 788.6,272.7"/><polygon fill="#00dc00" points="853,259.1 861.5,254.5 861.5,277.3 856.1,275.8 853,268.2"/><polygon fill="#00ffff" points="818.2,248.5 836.4,248.5 833.3,254.5 827.3,256.8 821.2,254.5"/><polygon fill="#00ffff" points="825.8,295.5 833.3,293.9 840.9,297 845.5,307.6 851.5,322.7 861.5,325.8 861.5,371.2 815.2,371.2 818.2,356.1 824.2,347 822.7,328.8 821.2,318.2 822.7,303"/><ellipse fill="#007f00" cx="760.6" cy="357.6" rx="10.6" ry="12.9"/><polygon fill="#007f00" points="715.2,359.1 727.3,354.5 736.4,359.1 737.9,371.2 715.2,371.2"/><polygon fill="#007f00" points="698.5,362.1 706.1,356.1 712.1,365.2 712.1,371.2 698.5,371.2"/><ellipse fill="#00ffff" cx="707.6" cy="369.7" rx="6.1" ry="3.8"/></g>
<g clip-path="url(#t22)"><rect x="700" y="370" width="160" height="120" fill="#00ffff"/><polygon fill="#007f00" points="721.2,368.5 812.1,368.5 815.2,379.1 818.2,389.7 830.3,391.2 843.9,392.7 847.7,398.8 847,409.4 842.4,417 833.3,418.5 827.3,413.9 822.7,421.5 819.7,430.6 815.2,433.6 806.1,433.6 803,430.6 797,426.1 790.9,421.5 781.8,420 775.8,423 774.2,430.6 774.2,442.7 778.8,448.8 782.6,451.8 781.8,457.9 777.3,454.8 772.7,451.8 763.6,454.8 754.5,456.4 748.5,451.8 745.5,445.8 739.4,439.7 721.2,438.2 713.6,436.7 709.1,430.6 712.1,420 716.7,406.4 719.7,398.8 722.7,388.2 724.2,379.1"/><polygon fill="#00dc00" points="737.9,368.5 803,368.5 809.1,379.1 813.6,392.7 815.2,404.8 812.1,417 806.1,421.5 798.5,420 790.9,410.9 786.4,407.9 778.8,412.4 771.2,418.5 763.6,423 757.6,430.6 756.1,436.7 750,441.2 742.4,436.7 736.4,430.6 732.6,420 732.6,407.9 734.8,397.3 739.4,388.2 739.4,376.1"/><polygon fill="#80ff00" points="742.4,392.7 750,385.2 757.6,384.4 762.1,389.7 762.9,401.8 759.1,407.9 753,413.9 748.5,421.5 743.9,421.5 740.9,412.4 737.9,403.3"/><polygon fill="#80ff00" points="765.2,391.2 771.2,385.2 777.3,379.1 777.3,382.1 772.7,388.2 768.2,392.7"/><polygon fill="#007f00" points="698.5,476.1 706.1,474.5 710.6,482.1 712.1,491.2 698.5,491.2"/><polygon fill="#007f00" points="789.4,491.2 793.9,482.1 803,474.5 815.2,473 824.2,477.6 836.4,479.1 845.5,482.1 857.6,483.6 861.5,485.2 861.5,491.2"/><ellipse fill="#00bfff" cx="730.3" cy="489.7" rx="9.1" ry="2.3"/></g>
<g clip-path="url(#t23)"><rect x="700" y="490" width="160" height="120" fill="#00ffff"/><polygon fill="#007f00" points="698.5,488.5 710.6,488.5 707.6,497.6 704.5,503.6 698.5,505.2"/><ellipse fill="#00bfff" cx="729.5" cy="502.9" rx="11.4" ry="15.9"/><polygon fill="#007f00" points="747,506.7 751.5,502.1 760.6,502.1 768.2,503.6 772.7,512.7 778.8,520.3 784.8,517.3 790.9,505.2 789.4,488.5 861.5,488.5 861.5,574.8 851.5,577.9 836.4,574.8 830.3,576.4 825.8,571.8 821.2,564.2 815.2,561.2 809.1,565.8 804.5,574.8 801.5,587 793.9,591.5 790.9,583.9 784.8,577.9 775.8,571.8 765.2,565.8 757.6,564.2 753,559.7 745.5,553.6 737.9,549.1 733.3,543 730.3,533.9 734.8,524.8 742.4,520.3 750,518.8 753,514.2"/><polygon fill="#00dc00" points="807.6,508.2 810.6,500.6 818.2,502.1 825.8,494.5 831.8,488.5 840.9,488.5 845.5,494.5 857.6,497.6 861.5,499.1 861.5,571.8 851.5,571.8 839.4,570.3 833.3,562.7 831.8,550.6 828.8,537 819.7,529.4 812.1,521.8 807.6,515.8"/><ellipse fill="#80ff00" cx="843.9" cy="556.7" rx="10.6" ry="9.8"/><ellipse fill="#80ff00" cx="840.2" cy="537.7" rx="3" ry="5.3"/><ellipse fill="#00dc00" cx="743.2" cy="539.2" rx="7.6" ry="7.6"/><polygon fill="#00dc00" points="753,532.4 759.1,524.8 763.6,526.4 769.7,532.4 771.2,540 768.2,546.1 760.6,549.1 754.5,547.6 751.5,540"/><ellipse fill="#00dc00" cx="781.8" cy="549.8" rx="6.1" ry="5.3"/><polygon fill="#007f00" points="833.3,611.2 845.5,603.6 854.5,596.1 861.5,591.5 861.5,611.2"/></g>
<g clip-path="url(#t24)"><rect x="700" y="610" width="160" height="120" fill="#00ffff"/><polygon fill="#007f00" points="801.5,681.8 806.1,668.2 812.1,648.5 818.2,636.4 824.2,628.8 828.8,616.7 833.3,609.1 843.9,604.5 853,598.5 861.5,598.5 861.5,681.8"/><polygon fill="#00dc00" points="809.1,681.8 811.4,663.6 816.7,651.5 822.7,648.5 830.3,651.5 834.8,657.6 845.5,656.1 847.7,645.5 845.5,633.3 839.4,631.8 834.8,627.3 839.4,619.7 851.5,615.2 861.5,612.1 861.5,681.8"/><polygon fill="#80ff00" points="810.6,681.8 815.2,663.6 821.2,657.6 827.3,660.6 833.3,669.7 834.8,681.8"/><polygon fill="#80ff00" points="847.7,645.5 851.5,637.9 857.6,630.3 861.5,628.8 861.5,663.6 851.5,663.6 848.5,657.6"/><ellipse fill="#eeff00" cx="854.5" cy="650" rx="6.1" ry="9.1"/><polygon fill="#007f00" points="847,681.8 850,671.2 857.6,666.7 861.5,665.2 861.5,681.8"/><polygon fill="#007f00" points="752.3,681.8 753,671.2 760.6,663.6 768.2,658.3 775.8,659.1 780.3,663.6 784.8,678.8 784.8,681.8"/><ellipse fill="#00dc00" cx="774.2" cy="671.2" rx="6.8" ry="9.1"/><ellipse fill="#80ff00" cx="774.2" cy="673.5" rx="4.5" ry="6.8"/><polygon fill="#00bfff" points="712.1,681.8 712.1,674.2 715.2,673.5 719.7,675.8 724.2,681.8"/></g>
<g clip-path="url(#t25)"><rect x="860" y="130" width="160" height="120" fill="#00dc00"/><polygon fill="#80ff00" points="839.1,136.1 880,136.1 873.9,152.7 864.8,164.8 855.8,170.9 848.2,163.3 840.6,152.7"/><polygon fill="#eeff00" points="849.7,136.1 866.4,136.1 863.3,149.7 858.8,154.2 852.7,149.7"/><polygon fill="#007f00" points="860,169.4 861.8,169.4 867.9,160.3 877,154.2 884.5,152.7 901.2,152.7 901.2,251.2 860,251.2"/><polygon fill="#00ffff" points="855.5,179.7 865.8,189.2 880,190 901.2,189.1 901.2,217.1 840.6,218.6 840.6,180"/><polygon fill="#00ffff" points="839.1,219.4 901.2,217.1 901.2,236.1 886.1,239.1 870.9,243.6 855.8,246.7 840.6,250 839.1,236.1"/></g>
<g clip-path="url(#t26)"><rect x="860" y="250" width="160" height="120" fill="#007f00"/><polygon fill="#00ffff" points="818.5,248.5 835.2,248.5 832.1,254.5 826.1,256.8 818.5,256.1"/><ellipse fill="#00dc00" cx="864.7" cy="265.2" rx="11.4" ry="13.6"/><polygon fill="#00ffff" points="823,298.5 830.6,294.7 838.2,295.5 844.2,301.5 850.3,313.6 856.4,324.2 862.4,322.7 867,310.6 868.5,295.5 873,295.5 874.5,310.6 876.1,325.8 879.1,340.9 882.1,356.1 885.2,371.2 818.5,371.2 818.5,348.5 823,340.9 821.5,318.2"/><polygon fill="#00dc00" points="885.2,371.2 883.6,348.5 886.7,328.8 891.2,316.7 898.8,307.6 906.4,306.1 910.9,325.8 917,340.9 926.1,371.2"/><polygon fill="#80ff00" points="888.2,348.5 892.7,339.4 901.8,334.8 910.9,331.8 917,337.9 923,356.1 929.1,371.2 888.2,371.2"/><polygon fill="#eeff00" points="913.9,362.1 918.5,354.5 924.5,353 930.6,371.2 913.9,371.2"/></g>
<g clip-path="url(#t27)"><rect x="860" y="370" width="160" height="120" fill="#007f00"/><polygon fill="#00ffff" points="818.5,368.5 886.7,368.5 886.7,400.3 880.6,404.8 873.8,415.5 876.1,430.6 874.5,445.8 868.5,456.4 864.7,462.4 867,476.1 865.5,491.2 859.4,489.7 850.3,482.1 839.7,479.1 829.1,477.6 818.5,479.1"/><polygon fill="#00dc00" points="889.7,371.5 898.8,368.5 932.1,368.5 935.2,385.2 938.2,415.5 941.2,445.8 942.7,476.1 942.7,483.6 929.1,477.6 920,468.5 915.5,459.4 926.1,454.8 930.6,447.3 927.6,438.2 918.5,429.1 910.9,420 901.8,412.4 898.8,400.3 892.7,388.2"/><polygon fill="#80ff00" points="892.7,368.5 932.1,368.5 935.2,392.7 936.7,417 929.1,412.4 918.5,403.3 910.9,392.7 901.8,382.1"/><polygon fill="#eeff00" points="913.9,368.5 932.1,368.5 935.9,385.2 935.9,403.3 929.1,395.8 921.5,385.2 917,377.6"/><ellipse fill="#00dc00" cx="903.3" cy="441.2" rx="9.1" ry="14.4"/><ellipse fill="#00dc00" cx="879.1" cy="488.2" rx="6.8" ry="6.1"/></g>
<g clip-path="url(#t28)"><rect x="860" y="490" width="160" height="120" fill="#007f00"/><polygon fill="#00dc00" points="818.5,488.5 839.7,488.5 850.3,493 859.4,499.1 870,496.1 874.5,488.5 886.7,488.5 885.2,505.2 883.6,520.3 877.6,530.9 865.5,533.9 859.4,538.5 860.9,550.6 865.5,555.2 863.9,562.7 856.4,568.8 842.7,568.8 832.1,564.2 826.1,543 818.5,535.5"/><polygon fill="#80ff00" points="871.5,499.1 877.6,488.5 888.2,488.5 886.7,502.1 883.6,511.2 877.6,514.2 871.5,508.2"/><ellipse fill="#80ff00" cx="844.2" cy="556.7" rx="9.8" ry="9.8"/><ellipse fill="#80ff00" cx="839.7" cy="537.7" rx="3" ry="5.3"/><polygon fill="#00ffff" points="898.8,527.9 904.8,517.3 913.9,509.7 923,508.2 935.2,511.2 941.2,520.3 942,535.5 939.7,550.6 937.4,559.7 933.6,570.3 926.1,576.4 913.9,577.9 909.4,574.8 907.9,580.9 907.9,596.1 906.4,611.2 876.1,611.2 883.6,599.1 886.7,587 888.2,577.9 892.7,574.8 898.8,568.8 901.8,562.7 900.3,553.6 898,543"/><polygon fill="#00ffff" points="818.5,571.8 829.1,574.8 842.7,576.4 856.4,574.8 863.9,567.3 871.5,565.8 879.1,568.8 880.6,577.9 876.1,587 865.5,593 854.8,599.1 842.7,605.2 832.1,609.7 818.5,611.2"/><ellipse fill="#00dc00" cx="873.8" cy="596.8" rx="6.1" ry="7.6"/><polygon fill="#00dc00" points="917,611.2 920,600.6 926.1,588.5 935.2,577.9 944.2,565.8 950.3,553.6 956.4,561.2 962.4,580.9 971.5,596.1 977.6,611.2"/><polygon fill="#80ff00" points="944.2,583.9 950.3,574.8 956.4,571.8 962.4,580.9 968.5,591.5 976.1,602.1 977.6,611.2 953.3,611.2 945.8,596.1"/></g>
<g clip-path="url(#t29)"><rect x="860" y="610" width="160" height="120" fill="#00dc00"/><polygon fill="#00ffff" points="818.5,598.5 853.3,598.5 842.7,604.5 833.6,609.1 829.1,616.7 826.1,627.3 818.5,634.8"/><polygon fill="#007f00" points="818.5,634.8 826.1,627.3 829.1,616.7 835.2,609.1 850.3,603 856.4,598.5 877.6,598.5 873,609.1 877.6,619.7 885.2,625.8 895.8,622.7 898.8,619.7 904.8,612.1 907.9,598.5 917,598.5 926.1,609.1 935.2,621.2 932.1,633.3 926.1,637.9 921.5,645.5 920,657.6 910.9,660.6 904.8,656.1 898.8,651.5 888.2,653 880.6,637.9 876.1,625.8 870,619.7 862.4,615.2 856.4,615.2 847.3,618.2 838.2,624.2 835.2,631.8 838.2,639.4 845.8,634.8 848.8,639.4 844.2,651.5 836.7,657.6 829.1,653 818.5,645.5"/><polygon fill="#00ffff" points="873,610.6 879.1,598.5 907.9,598.5 904.8,612.1 898.8,621.2 891.2,625.8 882.1,625 876.1,618.2"/><ellipse fill="#00ffff" cx="925.3" cy="616.7" rx="2.3" ry="3.8"/><polygon fill="#80ff00" points="847.3,660.6 850.3,639.4 856.4,625.8 863.9,623.5 871.5,627.3 876.1,637.9 877.6,650 874.5,659.1 865.5,662.1 856.4,663.6"/><ellipse fill="#eeff00" cx="854.1" cy="650" rx="6.1" ry="7.6"/><polygon fill="#007f00" points="846.5,677.3 850.3,668.2 857.9,665.2 865.5,669.7 868.5,677.3"/><polygon fill="#80ff00" points="818.5,657.6 824.5,657.6 830.6,666.7 835.2,677.3 818.5,677.3"/><polygon fill="#80ff00" points="947.3,598.5 976.1,598.5 979.1,615.2 981.5,630.3 981.5,672.7 956.4,672.7 959.4,654.5 962.4,637.9 963.9,615.2 956.4,609.1"/><ellipse fill="#eeff00" cx="973" cy="666.7" rx="6.1" ry="5.3"/></g>
<polygon fill="#eeff00" points="698.5,207.6 695.6,222.7 692.8,243.6 683.3,262.5 678.6,279.5 681.4,290.9 690.9,298.5 702.3,306 706.1,313.6 717.4,323.1 728.8,321.2 738.3,302.3 730.7,281.4 721.2,262.5 725,237.9 723.1,219 713.6,208.5"/><polygon fill="#ffbf00" points="703,272 709,268 717,269 721,278 721,290 716,297 709,298 704,292 702,282"/><g fill="none" stroke="#6e7b62" stroke-width="1"><polyline points="89.7,200.3 225.2,204.8"/><polyline points="220.6,141.5 219.1,189.1 225.2,190 225.2,219.4 223.6,251.2 229.7,251.8 229.7,293.6"/><polyline points="225.2,220 331.2,222.4"/><polyline points="326.7,143.6 326.7,192.1 346.4,193.6 346.4,237.6 380,238.5"/><polyline points="311.5,177 326.7,177"/><polyline points="311.5,177 311.5,192.1 300.9,192.1 300.9,220.9"/><polyline points="331.2,222.4 331.2,252.7 335.8,254.2 335.8,313.3 341.8,314.8 341.8,345.2"/><polyline points="281.2,345.2 380,346.7"/><polyline points="85.8,312.1 90.3,315.2 99.4,318.9 105.5,316.7 108.5,310.6 112.3,314.4 114.5,303 120.6,304.5 122.1,295.5 129.7,290.9 135.8,293.2 138.8,290.9 141.8,298.5 140.3,306.1 149.4,312.1 155.5,309.1 166.1,309.8 175.2,307.6 181.2,303 182.7,293.9 193.3,290.9 199.4,291.7 200.9,293.2 220,294.7"/><polyline points="220,293 225.2,292.1 232.7,295.2 238.8,296.7 244.8,301.2 250.9,305.8 257,310.3 260,317.9 255.5,325.5 250.3,333 249.4,342.1 253.9,351.2 266.1,355.8 275.2,358.8 281.2,354.2 290.3,355.8 293.3,363.3 294.8,374.8"/><polyline points="249.4,342.1 249.4,374.8"/><polyline points="193.3,372.4 249.4,372.4"/><polyline points="386.7,145.2 388.2,192.1 392.7,193.6 392.7,223.9 436.7,224.5"/><polyline points="370,238.5 436.7,239.1"/><polyline points="436.7,209.4 512.4,209.4 512.4,224.5"/><polyline points="436.7,209.4 436.7,255.8 442.1,255.8 442.7,311.8 447.3,315.5 447.3,346.7"/><polyline points="512.4,224.5 690,223.3"/><polyline points="538.2,145.2 539.7,193.6 544.2,194.2 545.2,224.5"/><polyline points="527.6,224.5 529.1,257.3 533.6,258.8 535.2,316.4 538.2,317.3 538.2,346.7"/><polyline points="615.5,145.2 616.1,193.6 620,194.2 620.9,254.2"/><polyline points="579.1,254.2 682.1,254.2"/><polyline points="579.1,254.2 579.1,315.5 585.2,316.4 585.2,346.7"/><polyline points="677.6,145.2 679.1,193.6 682.1,194.2 682.1,254.2"/><polyline points="654.8,254.2 656.4,293.6 663.9,295.2 665.5,299.7 673,308.8 676.1,314.8 690,308.8"/><polyline points="370,346.7 690,346.7"/><polyline points="492.7,346.7 492.7,374.8"/><polyline points="554.8,346.7 554.8,374.8"/><polyline points="645.8,346.7 645.8,374.8"/><polyline points="798.2,141.5 799.7,187.6 802.7,189.1 803.6,220.3"/><polyline points="680,223.3 892.1,217.9"/><polyline points="757.3,220.9 758.2,251.2 761.8,252.7 762.4,281.5"/><polyline points="747.3,283 896.7,278.5"/><polyline points="747.3,283 747.3,313.3 736.1,314.2 737,374.8"/><polyline points="808.8,281.5 810.3,311.8 813.3,374.8"/><polyline points="680,316.4 692.1,311.8 701.2,308.8 707.3,314.8 710.3,320.9 716.4,319.4 720.9,323.9 723.9,331.5 736.1,331.5"/><polyline points="680,345.2 736.1,344.5"/><polyline points="249.4,360 249.4,372.7 194.8,373.6 193.3,432.7"/><polyline points="79.7,429.1 200.9,433.3 199.4,494.8"/><polyline points="124.2,432.1 123,491.8 129.1,492.7 127.3,553.9"/><polyline points="174.5,494.8 199.4,494.8 258.5,495.8 260,491.8 305.5,491.8 311.5,497 380,497.9"/><polyline points="174.5,494.8 172.7,553.9"/><polyline points="74.5,567.6 102.4,567.6 103.9,553.9 208.5,556.4 311.5,558.5 380,560"/><polyline points="208.5,556.4 209.1,604.8"/><polyline points="310.9,497.9 310.9,544.8 355.5,544.2 356.4,560"/><polyline points="350.9,452.4 380,452.4"/><polyline points="350.9,452.4 351.5,497.9"/><polyline points="315.5,558.5 315.5,604.8"/><polyline points="293.3,360 293.3,378.2 299.4,393.3 299.4,435.8 305.5,437.3 307,497"/><polyline points="299.4,393.3 320.6,394.8 323.6,399.4 344.8,407 357,400.9 380,399.4"/><polyline points="492.7,360 492.7,378.2 482.7,378.8 482.7,438.2"/><polyline points="474.5,438.2 690,436.4"/><polyline points="474.5,438.2 474.5,467.6 447.3,468.5"/><polyline points="554.8,360 557.9,378.2 558.5,438.2"/><polyline points="645.8,360 648.2,390.3 690,390.3"/><polyline points="648.2,390.3 650.3,437.3"/><polyline points="549.7,438.2 550.6,499.4 554.2,500 554.2,560"/><polyline points="624.5,438.2 626.1,499.4 629.1,500 630,560"/><polyline points="370,498.8 451.8,498.8"/><polyline points="370,452.4 412.4,452.4"/><polyline points="370,560 406.4,560 406.4,604.8"/><polyline points="485.2,560.6 690,559.4"/><polyline points="572.4,560 572.4,604.8"/><polyline points="680.6,559.4 680.6,604.8"/><polyline points="370,402.4 391.2,396.4 398.8,403.9 391.2,411.5 398.8,426.7 401.8,438.8 412.4,449.4 423,444.8 439.7,446.4 445.8,453.9 447.3,464.5 451.8,475.2 453.3,487.3 456.4,494.8 451.8,500.9 456.4,511.5 460.9,523.6 467,535.8 468.5,547.9 474.5,550.9 480.6,555.5 485.2,553.9 486.7,560 494.2,566.1 497.3,578.2 494.2,590.3 494.2,604.8"/><polyline points="736.1,360 737.6,374.5 931.5,369.1"/><polyline points="680,390.3 737.6,389.7"/><polyline points="740.6,374.5 742.1,435.8 745.2,437.3 746.7,450.9 751.2,496.4 752.7,557"/><polyline points="801.2,373.6 802.7,417.6 805.8,432.7 806.7,449.4"/><polyline points="861.8,372.1 864.8,420.6 867.9,447.9"/><polyline points="680,437.3 745.2,436.4"/><polyline points="746.7,450.9 939.1,444.8"/><polyline points="837,449.4 839.1,487.3 842.1,541.8 843.6,553.9"/><polyline points="680,559.4 752.7,557 949.7,550.3"/><polyline points="801.2,557 802.7,604.8"/><polyline points="892.1,553.9 895.2,604.8"/><polyline points="74.5,567.6 102.4,567.6 103.9,560"/><polyline points="208.5,560 208.5,617.6"/><polyline points="72.1,613.9 199.4,617.6 258.5,619.1 260,632.7 320.6,632.7"/><polyline points="199.4,617.6 197.9,675.2"/><polyline points="316.1,560 316.1,620.6 320.6,622.1 320.6,679.7"/><polyline points="320.6,660 338.8,658.5 340.3,664.5 350.9,664.5 360,667.6 380,666.1"/><polyline points="406.4,560 406.4,607 436.7,607 442.7,614.5"/><polyline points="370,666.1 388.2,660 400.3,653.9 409.4,647.9 415.5,641.8 424.5,632.7 430.6,625.2 436.7,620.6 445.8,611.5 451.8,603.9 457.9,600.9 470,602.4 479.1,599.4 488.2,597.9 492.7,596.4"/><polyline points="485.2,560 494.2,572.1 495.8,581.2 492.7,596.4 494.2,608.5 495.8,620.6 491.2,632.7 488.2,644.8 489.7,657 497.3,669.1 501.8,679.7"/><polyline points="573,560 573.6,619.1 579.1,620.6 579.1,681.2"/><polyline points="573.6,620.6 690,619.1"/><polyline points="680.6,560 682.1,617.6 686.7,620.6 688.2,681.2"/><polyline points="680,620 804.2,617 896.7,614.5"/><polyline points="801.2,560 803.6,617 807.3,619.1 807.3,678.2"/><polyline points="892.1,560 893.6,590.3 895.8,614.5 898.2,620.6 903.6,675.2"/></g></g><polygon fill="none" stroke="#6e7b62" stroke-width="1" points="92,136 114,137 137,138 162,139 221,140.5 300,142.5 400,144.5 480,145.5 560,145 640,144 720,142 800,140 840,138.5 880,138 885,155 894,188 897,191 892,214 895,238 896,251 897,282 907,305 913,326 919,347 930,368 935,380 937,397 937,412 940,445 944,483 951,498 949,522 951,551 957,570 962,582 968,591 976,602 977,611 979,625 983,641 984,656 985,671 900,674 840,677 700,680 560,681 480,681 400,681 300,679 200,676 69,671"/></svg>
<h1>June 2011 Percent of Normal Rainfall</h1>
<div class="sw" style="left:135px;top:727px;background:#7f3f00"></div><div class="lt" style="left:182px;top:731px">&lt; 25</div>
<div class="sw" style="left:135px;top:754px;background:#ff6400"></div><div class="lt" style="left:182px;top:758px">25% - 50%</div>
<div class="sw" style="left:261px;top:727px;background:#ffbf00"></div><div class="lt" style="left:308px;top:731px">50% - 70%</div>
<div class="sw" style="left:261px;top:754px;background:#eeff00"></div><div class="lt" style="left:308px;top:758px">70% - 90%</div>
<div class="sw" style="left:387px;top:727px;background:#80ff00"></div><div class="lt" style="left:434px;top:731px">90% - 110%</div>
<div class="sw" style="left:387px;top:754px;background:#00dc00"></div><div class="lt" style="left:434px;top:758px">110% - 130%</div>
<div class="sw" style="left:528px;top:727px;background:#007f00"></div><div class="lt" style="left:575px;top:731px">130% - 150%</div>
<div class="sw" style="left:528px;top:754px;background:#00ffff"></div><div class="lt" style="left:575px;top:758px">150% - 200%</div>
<div class="sw" style="left:671px;top:727px;background:#00bfff"></div><div class="lt" style="left:718px;top:731px">200% - 250%</div>
<div class="sw" style="left:671px;top:754px;background:#0080ff"></div><div class="lt" style="left:718px;top:758px">250% - 300%</div>
<div class="sw" style="left:814px;top:727px;background:#0000ff"></div><div class="lt" style="left:861px;top:731px">300% - 400%</div>
<div class="sw" style="left:814px;top:754px;background:#bf00bf"></div><div class="lt" style="left:861px;top:758px">&gt; 400%</div>
</body></html>
